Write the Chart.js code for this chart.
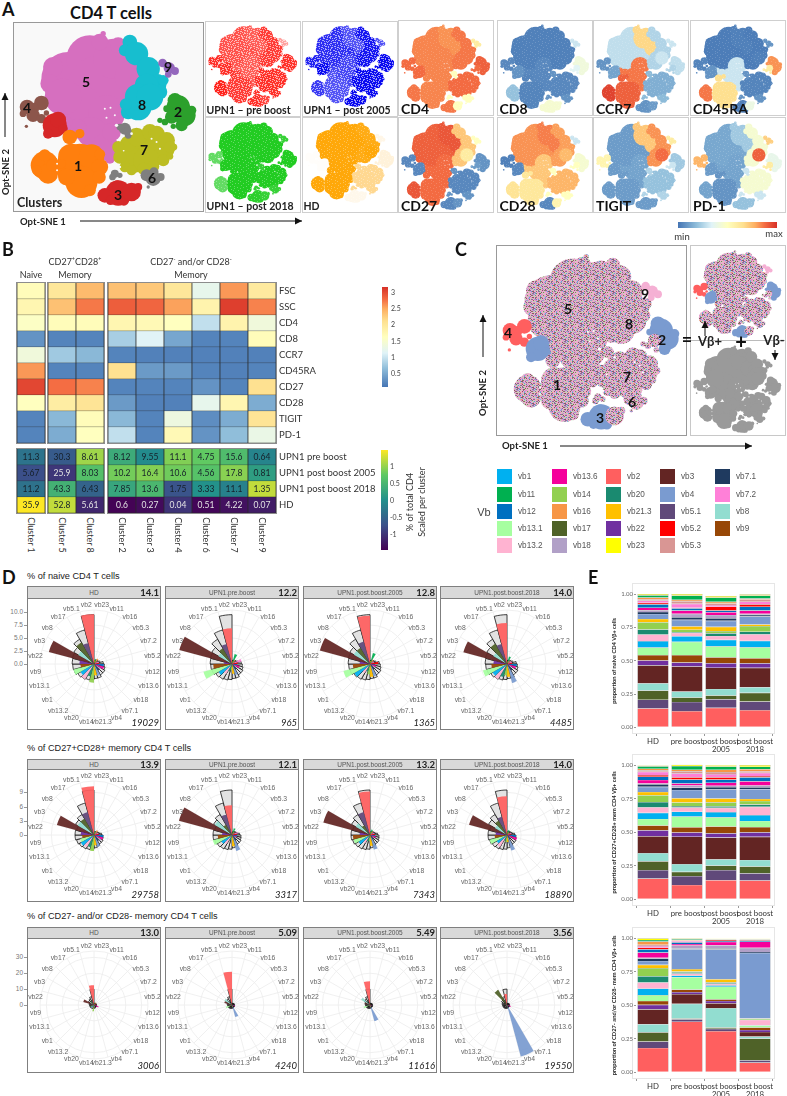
<!DOCTYPE html>
<html>
<head>
<meta charset="utf-8">
<title>CD4 T cells</title>
<script src="https://cdn.jsdelivr.net/npm/chart.js@4"></script>
<style>
  html, body { margin: 0; background: #fff; }
  #page { position: relative; width: 787px; height: 1096px; overflow: hidden; font-family: Lato, sans-serif; color: #111; }
  #page canvas { position: absolute; }
  .t { position: absolute; white-space: nowrap; line-height: 1; }
  .box { position: absolute; box-sizing: border-box; }
  sup { font-size: 60%; line-height: 0; }
</style>
</head>
<body>
<div id="page"></div>
<script>
'use strict';
const blobs5a = [[205,235,80],[160,200,30],[150,250,28],[270,175,70],[300,260,95],[240,330,75],[190,290,55]];
const blobs5b = [[340,175,60],[395,230,50],[300,125,25],[355,135,24],[430,235,38],[310,100,8]];
const blobs5c = [[320,340,55],[275,395,45],[315,440,40],[335,395,28],[330,475,15],[230,385,30],[200,365,18]];
const blobs8 = [[390,125,22],[375,150,18],[410,160,35],[445,205,35],[470,250,30],[490,240,16],[480,275,22],[385,335,22],[415,320,40],[440,255,35],[415,290,40],[378,312,18]];
const blobsJ = [[450,290,40]];
const blobs9 = [[488,188,13],[508,203,17],[525,212,12],[505,222,10]];
const blobs2 = [[535,320,35],[555,345,32],[525,300,22],[545,375,18],[575,330,14],[500,325,10]];
const blobs2l = [[515,350,20],[495,365,10],[520,378,8],[480,360,8]];
const blobs4 = [[82,320,22],[125,308,22],[100,325,18],[100,345,20],[125,355,14],[70,340,10],[140,338,8],[80,378,5]];
const blobsR = [[165,375,36],[175,358,24],[145,400,15],[190,385,14]];
const blobs1a = [[135,495,42],[115,490,20],[145,520,30],[112,510,15],[135,465,18],[158,495,18]];
const blobs1b = [[240,500,70],[215,470,40],[275,470,38],[245,545,48],[270,570,18],[200,530,25],[300,500,25],[300,462,16],[298,530,20],[185,490,14],[210,410,22],[240,400,14]];
const blobs7 = [[440,440,50],[480,440,45],[400,480,38],[440,480,40],[385,430,24],[410,410,28],[450,395,24],[470,400,24],[355,440,18],[500,420,25],[510,440,18],[522,440,10],[360,470,20],[375,500,16],[395,510,15],[490,480,18],[460,498,18],[430,505,18],[510,468,10]];
const blobs6 = [[440,525,18],[460,535,22],[462,515,14],[482,530,12],[445,560,5],[345,520,12],[338,530,10],[360,525,8],[375,385,18],[360,380,10],[385,405,10],[382,392,13]];
const blobs3 = [[355,578,38],[315,585,22],[332,600,14],[372,600,16],[352,556,16]];
const blobs3r = [[395,575,28],[415,560,12]];
const blobsGap = [[172,470,3],[172,490,3],[172,510,3],[315,325,3],[332,322,3],[345,345,3],[320,352,3],[455,415,3],[470,425,3],[480,445,3],[350,375,5],[395,400,4],[345,495,5],[360,500,4]];

const regionNames = ['5a','5b','5c','j','8','9','2','2l','4','r','1a','1b','7','6','3','3r'];
const regionBlobs = [blobs5a,blobs5b,blobs5c,blobsJ,blobs8,blobs9,blobs2,blobs2l,blobs4,blobsR,blobs1a,blobs1b,blobs7,blobs6,blobs3,blobs3r];
// draw order: pink underneath, cyan over it, the rest on top
const regionDrawOrder = ['5a','5b','5c','8','j','9','2','2l','4','r','1a','1b','7','6','3','3r'];

const clusterColors = ['#D66FBF','#D66FBF','#D66FBF','#17BECF','#17BECF','#9467BD','#2CA02C','#2CA02C','#8C564B','#D62728','#FF7F0E','#FF7F0E','#BCBD22','#7F7F7F','#D62728','#D62728'];

// marker level per region (same order as regionNames), 0 = min, 1 = max
const levelCD4 = [.84,.82,.84,.86,.86,.6,.9,.88,.88,.88,.86,.84,.88,.5,.86,.5];
const levelCD8 = [.03,.03,.05,.03,.03,.3,.42,.35,.05,.08,.2,.04,.05,.08,.45,.45];
const levelCCR7 = [.28,.68,.86,.3,.25,.3,.28,.25,.08,.12,.96,.9,.15,.18,.08,.1];
const levelCD45RA = [.02,.03,.3,.03,.02,.08,.82,.6,.04,.08,.86,.66,.04,.08,.03,.4];
const levelCD27 = [.9,.92,.88,.6,.72,.5,.08,.1,.05,.05,.92,.88,.05,.08,.05,.08];
const levelCD28 = [.82,.85,.72,.75,.8,.3,.45,.5,.03,.05,.64,.62,.76,.5,.05,.55];
const levelTIGIT = [.1,.72,.12,.88,.82,.6,.22,.3,.55,.1,.1,.1,.2,.25,.1,.1];
const levelPD1 = [.13,.22,.12,.9,.45,.7,.38,.6,.76,.1,.12,.08,.45,.3,.2,.2];

// how strongly each sample fills a region, 0 = empty, 1 = solid
const fillPre = [.75,.7,.7,.85,.85,.4,.9,.9,.9,.9,.95,.85,.9,.9,.9,.8];
const fill2005 = [.85,.7,.75,.95,.95,.7,1,1,.9,1,.8,.7,1,1,1,1];
const fill2018 = [1,1,1,1,1,.9,1,1,.7,1,.7,1,1,.9,.95,.9];
const fillHD = [1,1,1,1,.95,.1,.15,.15,.02,.02,1,1,.45,.45,.08,.08];

// heatmap B
const clusterNames = ['Cluster 1','Cluster 5','Cluster 8','Cluster 2','Cluster 3','Cluster 4','Cluster 6','Cluster 7','Cluster 9'];
const markerRows = ['FSC','SSC','CD4','CD8','CCR7','CD45RA','CD27','CD28','TIGIT','PD-1'];
const rowFSC = [1.65,2.0,2.4,2.35,2.3,2.0,1.2,2.6,1.95];
const rowSSC = [1.75,2.35,2.75,2.9,2.85,2.55,1.8,3.1,2.7];
const rowCD4 = [1.55,1.65,1.65,1.75,1.7,1.6,.9,1.8,1.35];
const rowCD8 = [.25,.12,.12,.75,1.1,.4,.12,.12,1.65];
const rowCCR7 = [1.35,.7,.55,.12,.1,.1,.1,.1,.1];
const rowCD45RA = [2.6,.12,.12,2.1,.3,.3,.12,.1,.12];
const rowCD27 = [3.05,2.8,2.7,.12,.12,.12,.25,.12,2.1];
const rowCD28 = [1.6,1.9,2.05,.3,.1,.1,1.2,1.75,.45];
const rowTIGIT = [.12,.55,1.65,.55,.12,1.3,.2,.45,2.05];
const rowPD1 = [.12,.45,1.6,.9,.12,1.7,.25,.6,1.25];
const markerValues = [rowFSC,rowSSC,rowCD4,rowCD8,rowCCR7,rowCD45RA,rowCD27,rowCD28,rowTIGIT,rowPD1];

const sampleRows = ['UPN1 pre boost','UPN1 post boost 2005','UPN1 post boost 2018','HD'];
const pctPre = [11.3,30.3,8.61,8.12,9.55,11.1,4.75,15.6,0.64];
const pct2005 = [5.67,25.9,8.03,10.2,16.4,10.6,4.56,17.8,0.81];
const pct2018 = [11.2,43.3,6.43,7.85,13.6,1.75,3.33,11.1,1.35];
const pctHD = [35.9,52.8,5.61,0.6,0.27,0.04,0.51,4.22,0.07];
const sampleValues = [pctPre,pct2005,pct2018,pctHD];

// Vb families, legend order and colours
const vbNames = ['vb1','vb11','vb12','vb13.1','vb13.2','vb13.6','vb14','vb16','vb17','vb18','vb2','vb20','vb21.3','vb22','vb23','vb3','vb4','vb5.1','vb5.2','vb5.3','vb7.1','vb7.2','vb8','vb9'];
const vbColors = ['#00B0F0','#00B050','#0070C0','#A6FFA0','#FFB3D1','#F5009B','#92D050','#F79646','#4F6228','#B1A0C7','#FF5F5F','#1A8A70','#FFC000','#7030A0','#FFFF00','#632523','#7A9BD0','#60497A','#FF0000','#D99694','#1F3A5F','#FF80D8','#92DDD0','#974706'];

// rose charts D, clockwise from 12 o'clock
const roseLabels = ['vb23','vb11','vb16','vb5.3','vb7.2','vb5.2','vb12','vb13.6','vb18','vb7.1','vb4','vb21.3','vb14','vb20','vb13.2','vb1','vb13.1','vb9','vb22','vb3','vb8','vb17','vb5.1','vb2'];
const naiveOutline = [.7,.8,.9,1,1.2,1.8,2,2.2,2.4,2.4,2.8,2.8,3,3.2,3.4,3.6,4,4.1,4.2,4.3,4.5,5.5,6.8,9.5];
const naiveHD = [.7,1,1.2,.7,1,1,1.9,2,1.5,1.5,2.4,2.2,3.6,2.5,3.4,3,4.1,2.6,2.8,9,3.5,4.8,4.2,9.6];
const naivePre = [.5,2,.9,.6,1.9,1.1,1,1.5,1,1.3,2.2,1.9,1.2,1.5,2.2,3,5.7,3.6,1.5,10.5,3,3.5,4,6.9];
const naive2005 = [.6,2.2,1,.8,.8,1.6,.8,1.2,1.1,1.3,2.5,2.5,2,1.5,2,3.5,5.3,3.3,2,10,3.6,3.6,4.5,9.3];
const naive2018 = [.5,1.5,.7,.9,1,1,1.9,1.8,1,1.5,3.8,2.5,2.2,2.6,3.4,3.2,4.8,3,2.6,8.7,3,4.5,4,7.9];
const memOutline = [.6,.8,.9,1,1.2,1.6,1.9,2,2.2,2.2,2.5,2.7,3,3.2,3.4,3.6,3.8,4,4,3.8,4.5,5,7,9.5];
const memHD = [.6,.8,1.2,.8,1,1,2,2,1.8,1.5,2.6,2.2,3.4,2.7,3,3.2,3,2.5,2.8,8.1,4,4,5,10.3];
const memPre = [.5,1.5,.8,.7,1.3,1,1.1,1,1.1,1.4,3.5,2.4,1,1.2,2.2,2.6,4.2,3,2.1,11.6,4.2,2.5,4.5,6.3];
const mem2005 = [.6,1.2,.9,.8,1,1,1,1.3,.9,1.2,3.2,2.3,1.3,1.4,2,2.8,3.6,3.6,2.2,10.2,3.5,2.4,5,9.2];
const mem2018 = [.6,1.1,.7,.7,1,.8,1.9,2.2,.9,1.1,3.4,1.5,1.5,1.2,2.9,2.5,3.8,2.6,2.4,8.3,2.9,3.5,4,8.2];
const lowOutline = [1,1.2,1.4,1.5,1.5,1.6,1.6,1.7,1.8,1.8,2,2,2.2,2.4,2.5,2.5,2.6,2.7,3,3.2,4,4.5,5.5,10];
const lowHD = [1,1.2,2,1,1,1.5,1.5,3,.6,1,1.8,1.6,4,2,2.5,2.2,2.2,1.5,1.5,7,2.8,3,2.5,12.5];
const lowPre = [.3,.4,.4,.4,.3,.5,1.5,2,1,.8,7.9,1.2,.4,.5,.8,.6,4,1.5,.5,5,5.5,1,1,21];
const low2005 = [.3,.4,.5,.4,.4,.4,.6,1.2,1,.6,10.5,1.2,.4,.8,.9,.6,4.2,1,1,3.5,6.5,1,1.2,15];
const low2018 = [.2,.3,.3,.3,.4,.5,1,2.5,.5,.5,33.5,.8,.4,.5,1.5,.5,.8,.4,.8,1.5,1.2,11,1.5,7];

const roseStrips = ['HD','UPN1.pre.boost','UPN1.post.boost.2005','UPN1.post.boost.2018'];
const roseTitles = ['% of naive CD4 T cells','% of CD27+CD28+ memory CD4 T cells','% of CD27- and/or CD28- memory CD4 T cells'];
const roseMaxNaive = ['14.1','12.2','12.8','14.0'];
const roseMaxMem = ['13.9','12.1','13.2','14.0'];
const roseMaxLow = ['13.0','5.09','5.49','3.56'];
const roseCountNaive = ['19029','965','1365','4485'];
const roseCountMem = ['29758','3317','7343','18890'];
const roseCountLow = ['3006','4240','11616','19550'];
const roseTicksNaive = [0,2.5,5,7.5,10];
const roseTicksMem = [0,3,6,9];
const roseTicksLow = [0,10,20,30];

// stacked shares E, bottom to top
const stackLabels = roseLabels.slice().reverse();
const barGroups = ['HD','pre boost',['post boost','2005'],['post boost','2018']];
const shareTicks = [0,.25,.5,.75,1];
const naiveShareHD = [.142,.066,.069,.054,.135,.037,.04,.056,.049,.049,.039,.054,.025,.037,.015,.012,.02,.025,.012,.017,.01,.012,.017,.01];
const naiveSharePre = [.122,.069,.034,.044,.189,.029,.056,.1,.042,.025,.007,.017,.025,.049,.02,.025,.025,.017,.003,.03,.02,.01,.032,.012];
const naiveShare2005 = [.147,.064,.029,.049,.159,.034,.044,.083,.049,.029,.02,.017,.032,.044,.02,.025,.02,.012,.03,.012,.012,.012,.032,.012];
const naiveShare2018 = [.13,.064,.066,.042,.145,.034,.039,.081,.049,.049,.02,.042,.012,.061,.012,.007,.025,.029,.017,.02,.017,.007,.022,.01];
const memShareHD = [.155,.063,.066,.061,.126,.044,.036,.049,.046,.041,.039,.051,.024,.039,.019,.005,.027,.024,.012,.024,.012,.012,.017,.007];
const memSharePre = [.107,.066,.032,.058,.204,.032,.039,.08,.036,.032,.01,.027,.032,.061,.017,.017,.015,.029,.017,.029,.015,.012,.027,.01];
const memShare2005 = [.143,.075,.034,.046,.163,.032,.051,.068,.039,.032,.012,.029,.029,.068,.017,.01,.022,.024,.017,.024,.015,.017,.024,.01];
const memShare2018 = [.141,.053,.051,.049,.172,.034,.039,.046,.044,.061,.017,.027,.015,.073,.015,.012,.032,.029,.01,.024,.012,.015,.019,.012];
const lowShareHD = [.182,.048,.068,.061,.111,.034,.029,.044,.048,.046,.046,.061,.024,.029,.019,.005,.039,.024,.012,.012,.01,.024,.012,.012];
const lowSharePre = [.378,.017,.007,.109,.073,.015,.019,.092,.012,.015,.01,.005,.019,.148,.005,.022,.012,.012,.005,.007,.002,.005,.007,.005];
const lowShare2005 = [.308,.017,.01,.145,.036,.017,.012,.094,.01,.012,.007,.005,.022,.223,.007,.024,.024,.007,.007,.002,.002,.002,.002,.002];
const lowShare2018 = [.073,.017,.162,.015,.034,.015,.019,.015,.002,.039,.002,.007,.002,.489,.007,.031,.046,.007,.005,.002,.002,.002,.002,.002];

Chart.defaults.animation = false;
Chart.defaults.responsive = false;
Chart.defaults.font.family = '"Liberation Sans", Arial, sans-serif';
Chart.defaults.plugins.legend.display = false;
Chart.defaults.plugins.tooltip.enabled = false;

const page = document.getElementById('page');

function addText(str, x, y, o) {
  o = o || {};
  const el = document.createElement('div');
  el.className = 't';
  el.innerHTML = str;
  el.style.left = x + 'px';
  el.style.top = y + 'px';
  el.style.fontSize = (o.size || 9) + 'px';
  el.style.fontWeight = o.weight || 400;
  if (o.font) el.style.fontFamily = o.font;
  if (o.color) el.style.color = o.color;
  if (o.italic) el.style.fontStyle = 'italic';
  if (o.z) el.style.zIndex = o.z;
  const ax = o.align === 'l' ? '0' : o.align === 'r' ? '-100%' : '-50%';
  el.style.transform = 'translate(' + ax + ',-50%)' + (o.rot ? ' rotate(' + o.rot + 'deg)' : '');
  if (o.rot) el.style.transformOrigin = 'center';
  page.appendChild(el);
  return el;
}

function addBox(x, y, w, h, css) {
  const el = document.createElement('div');
  el.className = 'box';
  el.style.cssText = 'left:' + x + 'px;top:' + y + 'px;width:' + w + 'px;height:' + h + 'px;' + (css || '');
  page.appendChild(el);
  return el;
}

function addCanvas(x, y, w, h) {
  const c = document.createElement('canvas');
  c.width = w;
  c.height = h;
  c.style.left = x + 'px';
  c.style.top = y + 'px';
  c.style.width = w + 'px';
  c.style.height = h + 'px';
  page.appendChild(c);
  return c;
}

const hex2rgb = h => [1, 3, 5].map(i => parseInt(h.substr(i, 2), 16));
const toHex = a => '#' + a.map(v => Math.round(v).toString(16).padStart(2, '0')).join('');
const mix = (a, b, t) => toHex(hex2rgb(a).map((v, i) => v + (hex2rgb(b)[i] - v) * t));

const heatStops = [[0,'#4575B4'],[.19,'#91BFDB'],[.34,'#E0F3F8'],[.5,'#FFFFBF'],[.66,'#FEE090'],[.78,'#FDAE61'],[.875,'#F46D43'],[1,'#D73027']];
const viridisStops = [[0,'#440154'],[.25,'#3B528B'],[.5,'#21908C'],[.75,'#5DC863'],[1,'#FDE725']];

function rampColor(stops, t) {
  t = Math.min(1, Math.max(0, t));
  for (let i = 1; i < stops.length; i++) {
    if (t <= stops[i][0]) {
      return mix(stops[i - 1][1], stops[i][1], (t - stops[i - 1][0]) / (stops[i][0] - stops[i - 1][0]));
    }
  }
  return stops[stops.length - 1][1];
}
const rampCss = (stops, dir) => 'linear-gradient(' + dir + ',' + stops.map(s => s[1] + ' ' + s[0] * 100 + '%').join(',') + ')';

// grain tiles for the maps, just a fill style
const lightTile = [
  '...x.......x....','.........x......','.x....x.......x.','...........x....',
  '....x...........','.........x...x..','x.....x.........','...x.........x..',
  '..........x.....','.x..........x...','.....x..........','........x.....x.',
  '..x.............','......x....x....','.............x..','.x.......x......'];
const denseTile = [
  '.xx..x...x.xx...','x....xx.....x.x.','..x.....xx......','.x..xx.....x..xx',
  '......x.x.x..x..','xx.x.....x.....x','...x..xx....xx..','.x.....x.x.x....',
  '....x.x.....x.x.','xx.....xx.x.....','...xx.....x..xx.','.x...x.x.....x..',
  '...x...xx.x.x...','x.....x.....x..x','.xx.x.....x.....','....xx.x.x..xx..'];
const mixTile = [
  'ppmgvvpcdpmrrpgp','pprmmbbpgppvpmmp','gppddmptpprpbmpd','mmvppggpopmpcppg',
  'pcpmrrpvvpgpddmp','bbpgpmpdpmmpvprp','pdpvvpbbupcpggpm','mpgpprpmmpddpmbb',
  'ppmbpggpcrrmpvpg','vvdppmmpgpbbpmdp','pgprpvvpmoopcpmm','mpbbdppgpmrpggvp',
  'prpmggcpvvpddpmb','ddvppbpmgptppprm','pmmcrrppdpvvgmpp','gppmpvvbpmpggrpd'];
const mixInk = {p:'#FFB3D1',m:'#E58BD0',g:'#A6FFA0',d:'#4F6228',r:'#632523',b:'#7A9BD0',v:'#60497A',t:'#1A8A70',o:'#F79646',c:'#00B0F0',u:'#7030A0'};

const patternCache = {};
function grain(color, tile, strength) {
  const key = color + tile[0] + strength;
  if (patternCache[key]) return patternCache[key];
  const c = document.createElement('canvas');
  c.width = c.height = tile.length;
  const g = c.getContext('2d');
  g.fillStyle = color;
  g.fillRect(0, 0, c.width, c.height);
  g.globalAlpha = strength;
  tile.forEach((row, y) => {
    for (let x = 0; x < row.length; x++) {
      if (row[x] === '.') continue;
      g.fillStyle = row[x] === 'x' ? '#fff' : mixInk[row[x]];
      g.fillRect(x, y, 1, 1);
    }
  });
  const p = g.createPattern(c, 'repeat');
  patternCache[key] = p;
  return p;
}

// one map panel; colorOf(regionIndex) gives the fill of a region
function drawMap(x, y, w, h, colorOf, background, yMax) {
  const scale = w / 572;
  const points = [];
  const fills = [];
  regionDrawOrder.forEach(name => {
    const idx = regionNames.indexOf(name);
    regionBlobs[idx].forEach(b => {
      points.push({x: b[0], y: b[1], r: b[2] * scale});
      fills.push(colorOf(idx, name));
    });
  });
  blobsGap.forEach(b => {
    points.push({x: b[0], y: b[1], r: b[2] * scale});
    fills.push(background);
  });
  return new Chart(addCanvas(x, y, w, h), {
    type: 'bubble',
    data: {datasets: [{data: points, backgroundColor: fills, borderWidth: 0, radius: 0, clip: false}]},
    options: {
      layout: {padding: 0, autoPadding: false},
      scales: {
        x: {display: false, min: 40, max: 612},
        y: {display: false, min: 65, max: yMax || 635, reverse: true}
      }
    }
  });
}

function mapFrame(x, y, w, h, border, bg) {
  addBox(x, y, w, h, 'border:' + border + ';background:' + (bg || '#fff') + ';');
}

// ---- A
addText('A', 2, 9, {size: 18, weight: 700, align: 'l'});
addText('CD4 T cells', 70, 13, {size: 16.5, weight: 700, align: 'l'});
mapFrame(13, 22, 191, 190, '1px solid #999', '#F9F9F9');
drawMap(13, 22, 191, 190, i => clusterColors[i], '#F9F9F9');
const clusterTags = [['9',168,67],['5',86,82],['8',142,105],['2',178,112],['4',27,108],['7',144,150],['1',78,166],['6',152,178],['3',118,195]];
clusterTags.forEach(t => addText(t[0], t[1], t[2], {size: 14, weight: 700}));
addText('Clusters', 17, 203, {size: 12.5, weight: 700, align: 'l', color: '#222'});

const sampleMaps = [
  ['UPN1 – pre boost', 205, 21, '#FF1A12', fillPre, denseTile, .6],
  ['UPN1 – post 2005', 302, 21, '#0A0AF0', fill2005, denseTile, .6],
  ['UPN1 – post 2018', 205, 117, '#22CC22', fill2018, lightTile, .3],
  ['HD', 302, 117, '#FFA80A', fillHD, lightTile, .3]
];
sampleMaps.forEach(s => {
  mapFrame(s[1], s[2], 96, 96, '1.5px solid #CFCFCF');
  drawMap(s[1], s[2], 96, 96, i => grain(mix('#FFFFFF', s[3], s[4][i]), s[5], s[6]), '#fff', 685);
  addText(s[0], s[1] + 1.5, s[2] + 89, {size: 10.5, weight: 700, align: 'l', color: '#222'});
});

const markerMaps = [
  ['CD4', 398, 20, levelCD4],['CD8', 496.5, 20, levelCD8],['CCR7', 593, 20, levelCCR7],['CD45RA', 690, 20, levelCD45RA],
  ['CD27', 398, 117, levelCD27],['CD28', 496.5, 117, levelCD28],['TIGIT', 593, 117, levelTIGIT],['PD-1', 690, 117, levelPD1]
];
markerMaps.forEach(m => {
  mapFrame(m[1], m[2], 96, 96, '1.5px solid #CFCFCF');
  drawMap(m[1], m[2], 96, 96, i => grain(rampColor(heatStops, m[3][i]), lightTile, .16), '#fff');
  addText(m[0], m[1] + 3, m[2] + 89, {size: 14, weight: 700, align: 'l', color: '#111'});
});
addBox(678, 222, 99, 6, 'background:' + rampCss(heatStops, 'to right') + ';');
addText('min', 682, 237, {size: 9.5, color: '#333'});
addText('max', 774, 234, {size: 9.5, color: '#333'});

// arrows, all of them on one overlay
const arrows = [[80,221,302,221],[5,137,5,93],[560,446,752,446],[483,357,483,315],[705,336,705,321],[775,350,775,360]];
const svgNS = 'http://www.w3.org/2000/svg';
const overlay = document.createElementNS(svgNS, 'svg');
overlay.setAttribute('width', 787);
overlay.setAttribute('height', 1096);
overlay.style.cssText = 'position:absolute;left:0;top:0;z-index:5;pointer-events:none;';
arrows.forEach(a => {
  const line = document.createElementNS(svgNS, 'line');
  line.setAttribute('x1', a[0]); line.setAttribute('y1', a[1]);
  line.setAttribute('x2', a[2]); line.setAttribute('y2', a[3]);
  line.setAttribute('stroke', '#111'); line.setAttribute('stroke-width', 1);
  overlay.appendChild(line);
  const ang = Math.atan2(a[3] - a[1], a[2] - a[0]);
  const head = [[0,0],[-7,-3.5],[-7,3.5]].map(p => {
    return (a[2] + p[0] * Math.cos(ang) - p[1] * Math.sin(ang)) + ',' + (a[3] + p[0] * Math.sin(ang) + p[1] * Math.cos(ang));
  }).join(' ');
  const tri = document.createElementNS(svgNS, 'polygon');
  tri.setAttribute('points', head);
  tri.setAttribute('fill', '#111');
  overlay.appendChild(tri);
});
page.appendChild(overlay);

addText('Opt-SNE 1', 20, 222, {size: 9.5, weight: 700, align: 'l', color: '#222'});
addText('Opt-SNE 2', 6, 172, {size: 9.5, weight: 700, rot: -90, color: '#222'});

// ---- B
addText('B', 2, 249, {size: 18, weight: 700, align: 'l'});
addText('Naive', 31, 274, {size: 9, color: '#333'});
addText('CD27<sup>+</sup>CD28<sup>+</sup>', 75, 261, {size: 9, color: '#333'});
addText('Memory', 75, 274, {size: 9, color: '#333'});
addText('CD27<sup>-</sup> and/or CD28<sup>-</sup>', 191, 261, {size: 9, color: '#333'});
addText('Memory', 191, 274, {size: 9, color: '#333'});

const heatGroups = [[0, 1, 17, 28],[1, 3, 48, 56],[3, 9, 108, 168]];

const cellValues = {
  id: 'cellValues',
  afterDatasetsDraw(chart, args, opts) {
    if (!opts.rows) return;
    const g = chart.ctx;
    g.save();
    g.font = '8.5px Lato';
    g.textAlign = 'center';
    g.textBaseline = 'middle';
    chart.data.datasets.forEach((ds, r) => {
      chart.getDatasetMeta(r).data.forEach((bar, c) => {
        g.fillStyle = opts.ink[r][c];
        g.fillText(opts.rows[r][c], bar.x, (bar.y + bar.base) / 2);
      });
    });
    g.restore();
  }
};

function drawHeat(group, top, height, rows, colorFor, showValues, inkFor) {
  const from = group[0], to = group[1];
  const labels = clusterNames.slice(from, to);
  const datasets = rows.map((row, r) => ({
    label: String(r),
    data: labels.map(() => 1),
    backgroundColor: row.slice(from, to).map((v, c) => colorFor(r, c + from, v)),
    borderColor: '#2b2b2b',
    borderWidth: 0.7,
    barPercentage: 1,
    categoryPercentage: 1
  }));
  addBox(group[2] - 1, top - 1, group[3] + 2, height + 2, 'border:1px solid #8c8c8c;');
  new Chart(addCanvas(group[2], top, group[3], height), {
    type: 'bar',
    data: {labels: labels, datasets: datasets},
    options: {
      layout: {padding: 0},
      plugins: {cellValues: showValues ? {rows: rows.map(r => r.slice(from, to)), ink: inkFor(from, to)} : {}},
      scales: {
        x: {display: false, stacked: true},
        y: {display: false, stacked: true, min: 0, max: rows.length, reverse: true}
      }
    },
    plugins: [cellValues]
  });
}

// z score per cluster, that is what the lower colour bar shows
const zRange = 1.47;
function zScore(c, v) {
  const col = sampleValues.map(r => r[c]);
  const m = col.reduce((a, b) => a + b, 0) / col.length;
  const sd = Math.sqrt(col.reduce((a, b) => a + (b - m) * (b - m), 0) / (col.length - 1));
  return (v - m) / sd;
}
const inkFor = (from, to) => sampleValues.map(row => row.slice(from, to).map((v, c) => zScore(c + from, v) < -0.85 ? '#e4e4e4' : '#16202a'));

heatGroups.forEach(g => {
  drawHeat(g, 283, 160, markerValues, (r, c, v) => rampColor(heatStops, v / 3.2), false);
  drawHeat(g, 449, 64, sampleValues, (r, c, v) => rampColor(viridisStops, (zScore(c, v) + zRange) / (2 * zRange)), true, inkFor);
  const cw = g[3] / (g[1] - g[0]);
  for (let i = g[0]; i < g[1]; i++) {
    addText(clusterNames[i], g[2] + cw * (i - g[0] + .5), 535, {size: 9, rot: 90, color: '#333'});
  }
});
markerRows.forEach((name, i) => addText(name, 279, 283 + 16 * (i + .5), {size: 9.5, align: 'l', color: '#333'}));
sampleRows.forEach((name, i) => addText(name, 279, 449 + 16 * (i + .5), {size: 9.5, align: 'l', color: '#333'}));

addBox(382, 287, 6, 100, 'background:' + rampCss(heatStops.slice().reverse().map(s => [1 - s[0], s[1]]), 'to bottom') + ';');
const heatBarTicks = [['3',292],['2.5',308],['2',324],['1.5',341],['1',357],['0.5',373]];
heatBarTicks.forEach(t => addText(t[0], 391, t[1], {size: 7, align: 'l', color: '#444'}));
addBox(381, 450, 7, 100, 'background:' + rampCss(viridisStops.slice().reverse().map(s => [1 - s[0], s[1]]), 'to bottom') + ';');
const zBarTicks = [['1',466],['0.5',483],['0',500],['-0.5',517],['-1',534]];
zBarTicks.forEach(t => addText(t[0], 390, t[1], {size: 7, align: 'l', color: '#444'}));
addText('% of total CD4', 409, 502, {size: 9, rot: -90, color: '#333'});
addText('Scaled per cluster', 421, 502, {size: 9, rot: -90, color: '#333'});

// ---- C
addText('C', 461, 249, {size: 18, weight: 700});
const vbMapColor = {'4': '#FF5F5F', r: '#7A9BD0', '3': '#7A9BD0', '2': '#7A9BD0', '9': '#F5B0D4'};
const mixFill = () => grain('#CFA6C6', mixTile, .62);
mapFrame(496, 245, 191, 191, '1px solid #999');
drawMap(496, 245, 191, 191, (i, n) => vbMapColor[n] || mixFill(), '#fff');
mapFrame(689.5, 245, 96, 191, '1px solid #C8C8C8');
drawMap(690, 246, 95, 95, (i, n) => vbMapColor[n] || mixFill(), '#fff');
drawMap(690, 341, 95, 95, () => '#9A9A9A', '#fff');
addBox(690, 340, 95, 1, 'background:#bbb;');
const clusterTagsC = [['9',645,294],['5',568,309],['8',629,324],['2',662,340],['4',508,333],['1',557,385],['7',627,377],['6',632,402],['3',600,418]];
clusterTagsC.forEach(t => addText(t[0], t[1], t[2], {size: 14, weight: 700}));
addText('=', 687, 339, {size: 18, weight: 700, z: 4});
addText('Vβ+', 710, 341, {size: 13, weight: 700, color: '#222', z: 4});
addText('+', 741, 341, {size: 20, weight: 700, z: 4});
addText('Vβ-', 774, 340, {size: 13, weight: 700, color: '#222', z: 4});
addText('Opt-SNE 1', 502, 446, {size: 9.5, weight: 700, align: 'l', color: '#222'});
addText('Opt-SNE 2', 483, 393, {size: 9.5, weight: 700, rot: -90, color: '#222'});

const legendColumnsX = [497, 552, 606, 660, 715];
const legendRowsY = [469, 487, 504, 521, 538];
vbNames.forEach((name, i) => {
  const col = Math.floor(i / 5);
  const row = i % 5;
  addBox(legendColumnsX[col], legendRowsY[row], 15, 15, 'background:' + vbColors[i] + ';');
  addText(name, legendColumnsX[col] + 21, legendRowsY[row] + 8, {size: 8.2, align: 'l', color: '#555', font: '"Liberation Sans"'});
});
addText('Vb', 484, 512, {size: 11, color: '#444', font: '"Liberation Sans"'});

// ---- D
addText('D', 2, 577, {size: 18, weight: 700, align: 'l'});

const roseLabelPlugin = {
  id: 'roseLabels',
  afterDraw(chart) {
    const s = chart.scales.r;
    const g = chart.ctx;
    g.save();
    g.font = '6.8px "Liberation Sans"';
    g.fillStyle = '#666';
    g.textAlign = 'center';
    g.textBaseline = 'middle';
    chart.data.labels.forEach((name, i) => {
      const p = s.getPointPosition(i, 59, Math.PI / chart.data.labels.length);
      g.fillText(name, p.x, p.y);
    });
    g.restore();
  }
};

function drawRose(x, y, w, h, values, outline, rMax, step) {
  const colors = roseLabels.map(n => vbColors[vbNames.indexOf(n)] + 'EE');
  return new Chart(addCanvas(x, y, w, h), {
    type: 'polarArea',
    data: {
      labels: roseLabels,
      datasets: [
        {data: values, backgroundColor: colors, borderWidth: 0},
        {data: outline, backgroundColor: '#E2E2E2', borderColor: '#111', borderWidth: 0.8}
      ]
    },
    options: {
      layout: {padding: {top: 12, bottom: 12, left: 13, right: 13}},
      scales: {
        r: {
          min: 0, max: rMax, startAngle: 0,
          ticks: {display: false, stepSize: step},
          grid: {color: '#ECECEC', lineWidth: 0.8},
          angleLines: {display: true, color: '#ECECEC', lineWidth: 0.8},
          pointLabels: {display: false}
        }
      }
    },
    plugins: [roseLabelPlugin]
  });
}

const roseColumnsX = [27, 165, 303, 440];
const roseRows = [
  {title: 577, strip: 586, body: 598, h: 132, rMax: 10.4, step: 2.5, ticks: roseTicksNaive, fmt: 1, outline: naiveOutline, vals: [naiveHD,naivePre,naive2005,naive2018], maxes: roseMaxNaive, counts: roseCountNaive},
  {title: 749, strip: 759, body: 769, h: 133, rMax: 11.4, step: 3, ticks: roseTicksMem, fmt: 0, outline: memOutline, vals: [memHD,memPre,mem2005,mem2018], maxes: roseMaxMem, counts: roseCountMem},
  {title: 917, strip: 927, body: 938, h: 135, rMax: 34, step: 10, ticks: roseTicksLow, fmt: 0, outline: lowOutline, vals: [lowHD,lowPre,low2005,low2018], maxes: roseMaxLow, counts: roseCountLow}
];
roseRows.forEach((row, ri) => {
  addText(roseTitles[ri], 27, row.title, {size: 9.2, align: 'l', color: '#222', font: '"Liberation Sans"'});
  roseColumnsX.forEach((cx, ci) => {
    addBox(cx, row.strip, 134, row.body - row.strip + 1, 'background:#D9D9D9;border:1px solid #7F7F7F;');
    addBox(cx, row.body, 134, row.h, 'border:1px solid #7F7F7F;background:#fff;');
    const chart = drawRose(cx, row.body, 134, row.h, row.vals[ci], row.outline, row.rMax, row.step);
    addText(roseStrips[ci], cx + 67, (row.strip + row.body) / 2 + .5, {size: 6.5, color: '#555', font: '"Liberation Sans"'});
    addText(row.maxes[ci], cx + 132, (row.strip + row.body) / 2 + .5, {size: 9.5, weight: 700, align: 'r', color: '#222'});
    addText(row.counts[ci], cx + 132, row.body + row.h - 7, {size: 9.5, italic: true, align: 'r', color: '#222'});
    if (ci === 0) {
      row.ticks.forEach(v => {
        const py = chart.scales.r.yCenter - chart.scales.r.getDistanceFromCenterForValue(v) + row.body;
        addText(v.toFixed(row.fmt), 23, py, {size: 6.5, align: 'r', color: '#777', font: '"Liberation Sans"'});
        addBox(24, py, 2.5, 1, 'background:#999;');
      });
    }
  });
});

// ---- E
addText('E', 588, 577, {size: 18, weight: 700, align: 'l'});

function drawShares(top, bottom, title, columns) {
  addBox(632, top, 143, bottom - top, 'border:1px solid #E6E6E6;');
  const datasets = stackLabels.map((name, s) => ({
    label: name,
    data: columns.map(col => col[s]),
    backgroundColor: vbColors[vbNames.indexOf(name)],
    borderColor: 'rgba(70,70,70,.55)',
    borderWidth: 0.4,
    barPercentage: 0.92,
    categoryPercentage: 1
  }));
  new Chart(addCanvas(611, top, 167, bottom - top + 24), {
    type: 'bar',
    data: {labels: barGroups, datasets: datasets},
    options: {
      layout: {padding: {right: 6, top: 0, bottom: 0, left: 0}},
      scales: {
        x: {
          stacked: true,
          grid: {drawOnChartArea: false, color: '#999', tickLength: 2},
          border: {display: false},
          ticks: {font: {family: 'Lato', size: 7.8, lineHeight: 1.05}, color: '#333', padding: 1, maxRotation: 0, autoSkip: false},
          afterFit: s => { s.height = 24; }
        },
        y: {
          stacked: true,
          min: -0.05, max: 1.05,
          grid: {drawOnChartArea: false, color: '#999', tickLength: 2},
          border: {display: false},
          afterBuildTicks: s => { s.ticks = shareTicks.map(v => ({value: v})); },
          ticks: {font: {family: 'Lato', size: 6}, color: '#666', padding: 1, callback: v => v.toFixed(2)},
          title: {display: true, text: title, font: {family: 'Lato', size: 5.7, weight: 'bold'}, color: '#222', padding: 0},
          afterFit: s => { s.width = 25; }
        }
      }
    }
  });
}
drawShares(583, 734, 'proportion of naive CD4 Vβ+ cells', [naiveShareHD, naiveSharePre, naiveShare2005, naiveShare2018]);
drawShares(754, 906, 'proportion of CD27+CD28+ mem CD4 Vβ+ cells', [memShareHD, memSharePre, memShare2005, memShare2018]);
drawShares(927, 1079, 'proportion of CD27- and/or CD28- mem CD4 Vβ+ cells', [lowShareHD, lowSharePre, lowShare2005, lowShare2018]);
</script>
</body>
</html>
